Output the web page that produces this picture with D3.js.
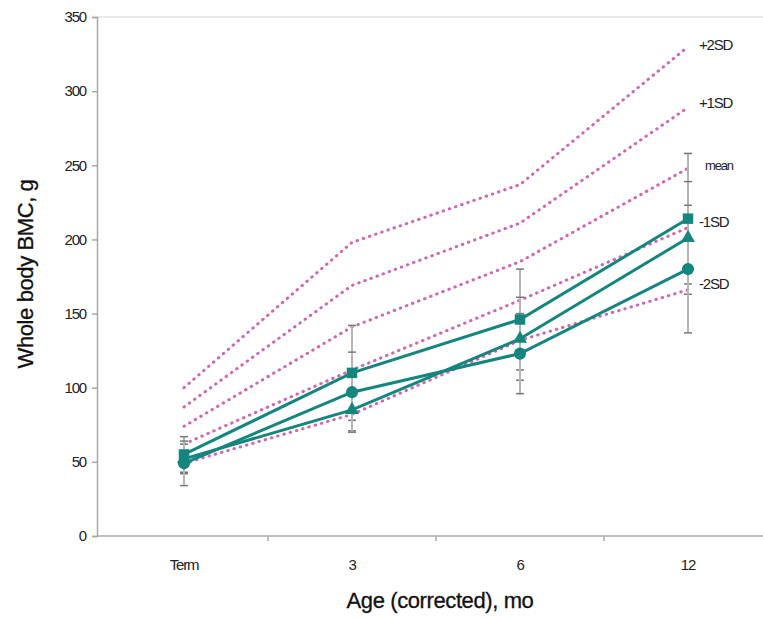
<!DOCTYPE html>
<html>
<head>
<meta charset="utf-8">
<script src="https://cdn.jsdelivr.net/npm/d3@7"></script>
<style>
  body { margin: 0; background: #fff; }
  text { font-family: "Liberation Sans", Arial, sans-serif; }
</style>
</head>
<body>
<div id="chart"></div>
<script>
// data
var ages = ["Term", "3", "6", "12"];
var yTicks = [0, 50, 100, 150, 200, 250, 300, 350];

// growth reference curves (dotted)
var refNames = ["+2SD", "+1SD", "mean", "-1SD", "-2SD"];
var refPlus2 = [100, 198, 237, 330];
var refPlus1 = [87, 169, 211, 289];
var refMean = [74, 141, 185, 248];
var refMinus1 = [62, 112, 159, 208];
var refMinus2 = [49, 82, 132, 166];

// study groups (mean, sd)
var squareMean = [55, 110, 146, 214];
var squareSd = [12, 32, 34, 44];
var triangleMean = [52, 85, 133, 201];
var triangleSd = [10, 14, 28, 38];
var circleMean = [49, 97, 123, 180];
var circleSd = [15, 27, 27, 43];

var svgWidth = 763;
var svgHeight = 619;

var svg = d3.select("#chart")
  .append("svg")
  .attr("width", svgWidth)
  .attr("height", svgHeight);

var x = d3.scaleBand()
  .domain(ages)
  .range([100, 772])
  .padding(0);

var y = d3.scaleLinear()
  .domain([0, 350])
  .range([536, 17]);

var cx = function(a) { return x(a) + x.bandwidth() / 2; };

var axisColor = "#a8a8a8";

// top frame line
svg.append("line")
  .attr("x1", 97).attr("x2", svgWidth)
  .attr("y1", y(350)).attr("y2", y(350))
  .attr("stroke", "#e2e2e2")
  .attr("stroke-width", 1.5);

// y axis
var yAxis = svg.append("g")
  .attr("transform", "translate(97,0)")
  .call(d3.axisLeft(y).tickValues(yTicks).tickSize(5).tickPadding(6));
yAxis.select(".domain").attr("stroke", axisColor).attr("stroke-width", 1.5);
yAxis.selectAll(".tick line").attr("stroke", axisColor).attr("stroke-width", 1.5);
yAxis.selectAll(".tick text")
  .attr("font-size", "15px")
  .attr("fill", "#222")
  .attr("letter-spacing", "-1.2px");

// x axis
svg.append("line")
  .attr("x1", 97).attr("x2", svgWidth)
  .attr("y1", y(0)).attr("y2", y(0))
  .attr("stroke", axisColor)
  .attr("stroke-width", 1.5);

svg.selectAll(".xtick")
  .data(ages.slice(1))
  .enter()
  .append("line")
  .attr("x1", d => x(d)).attr("x2", d => x(d))
  .attr("y1", y(0)).attr("y2", y(0) + 5)
  .attr("stroke", axisColor)
  .attr("stroke-width", 1.5);

svg.selectAll(".xlabel")
  .data(ages)
  .enter()
  .append("text")
  .attr("x", d => cx(d))
  .attr("y", 570)
  .attr("text-anchor", "middle")
  .attr("font-size", "15px")
  .attr("fill", "#222")
  .attr("letter-spacing", "-1.2px")
  .text(d => d);

// axis titles
svg.append("text")
  .attr("transform", "translate(33,274) rotate(-90)")
  .attr("text-anchor", "middle")
  .attr("font-size", "22px")
  .attr("fill", "#111")
  .attr("stroke", "#111")
  .attr("stroke-width", 0.3)
  .attr("letter-spacing", "-0.4px")
  .text("Whole body BMC, g");

svg.append("text")
  .attr("x", 440)
  .attr("y", 608)
  .attr("text-anchor", "middle")
  .attr("font-size", "22px")
  .attr("fill", "#111")
  .attr("stroke", "#111")
  .attr("stroke-width", 0.3)
  .attr("letter-spacing", "-0.4px")
  .text("Age (corrected), mo");

// reference curves
var refSeries = [refPlus2, refPlus1, refMean, refMinus1, refMinus2];
var line = d3.line()
  .x((d, i) => cx(ages[i]))
  .y(d => y(d));

svg.selectAll(".ref")
  .data(refSeries)
  .enter()
  .append("path")
  .attr("d", d => line(d))
  .attr("fill", "none")
  .attr("stroke", "#c2409f")
  .attr("stroke-width", 3)
  .attr("stroke-linecap", "round")
  .attr("stroke-dasharray", "0.5,6")
  .attr("opacity", 0.8);

var refLabelY = [45, 103, 165, 222, 284];
svg.selectAll(".reflabel")
  .data(refNames)
  .enter()
  .append("text")
  .attr("x", (d, i) => i == 2 ? 705 : 699)
  .attr("y", (d, i) => refLabelY[i] + 5)
  .attr("font-size", (d, i) => i == 2 ? "13px" : "15px")
  .attr("fill", "#222")
  .attr("letter-spacing", "-1.2px")
  .text(d => d);

// study groups
var groups = [
  { mean: squareMean, sd: squareSd, shape: d3.symbolSquare, size: 110 },
  { mean: triangleMean, sd: triangleSd, shape: d3.symbolTriangle, size: 85 },
  { mean: circleMean, sd: circleSd, shape: d3.symbolCircle, size: 115 }
];

var teal = "#14857f";

// error bars first
groups.forEach(function(g) {
  var bars = svg.append("g");
  g.mean.forEach(function(m, i) {
    var px = cx(ages[i]);
    bars.append("line")
      .attr("x1", px).attr("x2", px)
      .attr("y1", y(m - g.sd[i])).attr("y2", y(m + g.sd[i]))
      .attr("stroke", "#b5b5b5")
      .attr("stroke-width", 2);
    [m - g.sd[i], m + g.sd[i]].forEach(function(v) {
      bars.append("line")
        .attr("x1", px - 4).attr("x2", px + 4)
        .attr("y1", y(v)).attr("y2", y(v))
        .attr("stroke", "#777")
        .attr("stroke-width", 1.5);
    });
  });
});

groups.forEach(function(g) {
  svg.append("path")
    .attr("d", line(g.mean))
    .attr("fill", "none")
    .attr("stroke", teal)
    .attr("stroke-width", 3);

  svg.selectAll(null)
    .data(g.mean)
    .enter()
    .append("path")
    .attr("d", d3.symbol().type(g.shape).size(g.size))
    .attr("transform", (d, i) => "translate(" + cx(ages[i]) + "," + y(d) + ")")
    .attr("fill", teal);
});
</script>
</body>
</html>
